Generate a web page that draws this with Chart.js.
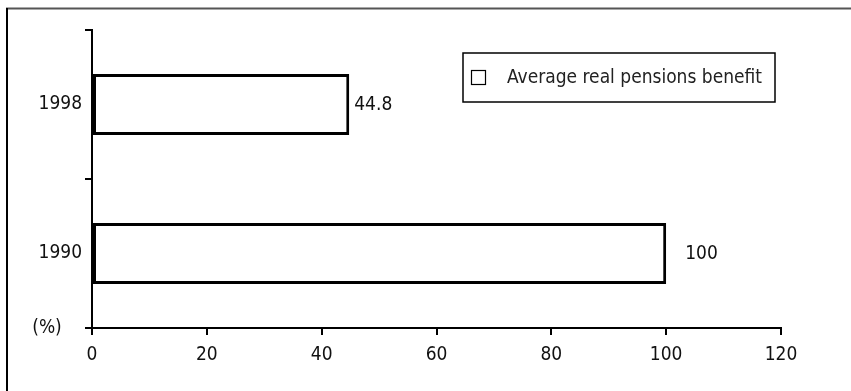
<!DOCTYPE html>
<html>
<head>
<meta charset="utf-8">
<script src="https://cdn.jsdelivr.net/npm/chart.js@4.4.1/dist/chart.umd.min.js"></script>
<style>
  html, body { margin: 0; padding: 0; background: #fff; }
  #wrap { width: 851px; height: 391px; position: relative; }
</style>
</head>
<body>
<div id="wrap"><canvas id="c" width="851" height="391"></canvas></div>
<script>
// Years shown top to bottom, and the benefit index (1990 = 100)
const years = ['1998', '1990'];
const benefitIndex = [44.8, 100];
const seriesName = 'Average real pensions benefit';
const xTicks = [0, 20, 40, 60, 80, 100, 120];
const unitLabel = '(%)';

const FONT = '"Liberation Sans Narrow", "DejaVu Sans Condensed", sans-serif';
const FONT_SIZE = 19;

// Frame lines, the legend box, the unit label and the value labels
const decor = {
  id: 'decor',
  beforeDraw(chart) {
    const ctx = chart.ctx;
    ctx.save();
    ctx.fillStyle = '#fff';
    ctx.fillRect(0, 0, chart.width, chart.height);
    ctx.strokeStyle = '#555';
    ctx.lineWidth = 2;
    ctx.beginPath();
    ctx.moveTo(6, 8.5); ctx.lineTo(chart.width, 8.5);
    ctx.stroke();
    ctx.strokeStyle = '#000';
    ctx.beginPath();
    ctx.moveTo(7, 8); ctx.lineTo(7, chart.height);
    ctx.stroke();
    ctx.restore();
  },
  afterDraw(chart) {
    const ctx = chart.ctx;
    const meta = chart.getDatasetMeta(0);
    const xs = chart.scales.x;
    ctx.save();
    ctx.fillStyle = '#111';
    ctx.textBaseline = 'middle';
    ctx.font = FONT_SIZE + 'px ' + FONT;

    // value labels at the bar ends
    meta.data.forEach((bar, i) => {
      const v = chart.data.datasets[0].data[i];
      ctx.textAlign = 'left';
      ctx.fillText(String(v), xs.getPixelForValue(v) + (v >= 100 ? 19 : 5), bar.y + 1);
    });

    // unit label next to the axis origin
    ctx.textAlign = 'center';
    ctx.fillText(unitLabel, 47, chart.chartArea.bottom);

    // legend box
    ctx.strokeStyle = '#000';
    ctx.lineWidth = 1.5;
    ctx.strokeRect(463, 53, 312, 49);
    ctx.lineWidth = 1.2;
    ctx.strokeRect(471.5, 70.5, 14, 14);
    ctx.textAlign = 'left';
    ctx.fillStyle = '#222';
    ctx.fillText(chart.data.datasets[0].label, 507, 78);
    ctx.restore();
  }
};

new Chart(document.getElementById('c'), {
  type: 'bar',
  data: {
    labels: years,
    datasets: [{
      label: seriesName,
      data: benefitIndex,
      backgroundColor: '#fff',
      borderColor: '#000',
      borderWidth: 3,
      borderSkipped: false,
      barPercentage: 0.41,
      categoryPercentage: 1
    }]
  },
  options: {
    indexAxis: 'y',
    responsive: false,
    animation: false,
    events: [],
    layout: { padding: { top: 30, right: 70, left: 0, bottom: 0 } },
    plugins: { legend: { display: false }, tooltip: { enabled: false } },
    scales: {
      x: {
        min: 0, max: 120,
        afterBuildTicks(scale) { scale.ticks = xTicks.map(v => ({ value: v })); },
        afterFit(scale) { scale.height = 391 - 328; },
        grid: { drawOnChartArea: false, drawTicks: true, tickLength: 7, color: '#000', lineWidth: 2 },
        border: { display: true, color: '#000', width: 2 },
        ticks: { color: '#111', font: { family: FONT, size: FONT_SIZE }, padding: 9, maxRotation: 0 }
      },
      y: {
        offset: true,
        afterFit(scale) { scale.width = 92; },
        grid: { offset: true, drawOnChartArea: false, drawTicks: true, tickLength: 7, color: '#000', lineWidth: 2 },
        border: { display: true, color: '#000', width: 2 },
        ticks: { color: '#111', font: { family: FONT, size: FONT_SIZE }, padding: 3 }
      }
    }
  },
  plugins: [decor]
});
</script>
</body>
</html>
